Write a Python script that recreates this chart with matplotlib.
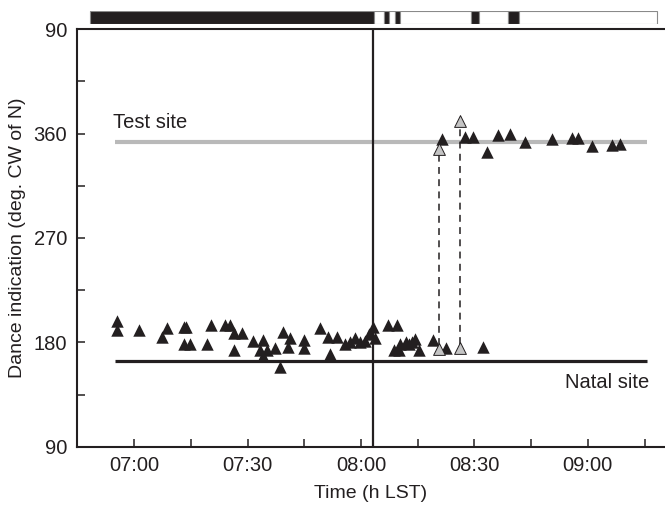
import matplotlib
matplotlib.use("Agg")
import matplotlib.pyplot as plt
from matplotlib.ticker import MultipleLocator, FixedLocator

plt.rcParams['font.family'] = ['Liberation Sans', 'DejaVu Sans']

# time in minutes after 07:00, dance direction in degrees (values > 360 plotted above 360)
black_t = [-4.6, -4.6, 1.4, 7.3, 8.6, 13.3, 13.8, 13.3, 14.8, 19.2, 20.4,
           24.0, 25.4, 26.4, 28.5, 26.4, 31.5, 34.2, 33.3, 35.1, 37.3, 34.2,
           38.6, 39.5, 40.7, 41.3, 45.0, 45.0, 49.2, 51.4, 51.8, 53.6,
           55.8, 57.1, 58.5, 59.8, 61.1, 62.0, 63.3, 63.8,
           67.2, 69.4, 68.6, 70.4, 71.8, 72.7, 73.5, 74.4, 75.3, 70.0,
           79.1, 82.6, 92.3,
           81.3, 87.5, 89.5, 93.2, 96.3, 99.4, 103.4, 110.4, 115.7, 117.4,
           121.2, 126.3, 128.5]
black_deg = [198, 191, 191, 185, 192, 193, 193, 179, 179, 179, 195,
             195, 195, 188, 188, 173, 181, 182, 173, 173, 175, 168,
             159, 189, 176, 184, 182, 175, 192, 185, 170, 185,
             179, 180, 184, 180, 181, 187, 193, 184,
             195, 195, 173, 179, 180, 179, 180, 183, 173, 173,
             182, 175, 176,
             355, 357, 357, 344, 359, 360, 353, 355, 356, 356,
             349, 350, 351]

# grey triangles: same dance read before (low) and after (high) the switch
grey_t = [80.5, 86.2]
grey_low = [174, 175]
grey_high = [347, 371]

natal_site = 164
test_site = 353
site_line_t = [-5.0, 135.7]
switch_t = 63.3

# top bar segments, alternating dark / light
bar_edges = [-11.8, 63.4, 66.1, 67.5, 69.1, 70.3, 89.0, 91.3, 99.0, 101.9, 138.2]
bar_black = [True, False, True, False, True, False, True, False, True, False]

xlim = (-15.2, 140.4)
x_major = [0, 30, 60, 90, 120]
x_labels = ['07:00', '07:30', '08:00', '08:30', '09:00']
y_major = [90, 180, 270, 360, 450]
y_labels = ['90', '180', '270', '360', '90']

fig = plt.figure(figsize=(6.65, 5.08), dpi=100)
ax = fig.add_axes([0.1153, 0.1207, 0.8847, 0.8216])
bar_ax = fig.add_axes([0.1153, 0.9528, 0.8847, 0.0256])

ink = '#231f20'

ax.plot(site_line_t, [test_site, test_site], color='#b9b9b9', lw=3.0, zorder=1,
        solid_capstyle='butt')
ax.plot(site_line_t, [natal_site, natal_site], color=ink, lw=2.3, zorder=1,
        solid_capstyle='butt')
ax.axvline(switch_t, color=ink, lw=1.6, zorder=4)

for t, lo, hi in zip(grey_t, grey_low, grey_high):
    ax.plot([t, t], [lo + 4, hi - 4], color=ink, lw=1.1, ls=(0, (4.5, 3.5)), zorder=2)

ax.scatter(black_t, black_deg, marker='^', s=80, color=ink, linewidths=0, zorder=3)
ax.scatter(grey_t + grey_t, grey_low + grey_high, marker='^', s=72,
           facecolor='#c4c4c4', edgecolor=ink, linewidths=0.7, zorder=5)

ax.text(-5.5, 364.5, 'Test site', fontsize=14.5, color=ink, ha='left', va='baseline')
ax.text(136.3, 140.5, 'Natal site', fontsize=14.5, color=ink, ha='right', va='baseline')

ax.set_xlim(*xlim)
ax.set_ylim(90, 450)
ax.xaxis.set_major_locator(FixedLocator(x_major))
ax.set_xticklabels(x_labels)
ax.xaxis.set_minor_locator(FixedLocator([-15, 15, 45, 75, 105, 135]))
ax.yaxis.set_major_locator(FixedLocator(y_major))
ax.set_yticklabels(y_labels)
ax.yaxis.set_minor_locator(MultipleLocator(45))
ax.tick_params(which='both', direction='in', length=6, width=1.1, colors=ink,
               labelsize=14.5, pad=7)
ax.spines['right'].set_visible(False)
for s in ['left', 'bottom', 'top']:
    ax.spines[s].set_linewidth(1.5)
    ax.spines[s].set_color(ink)
ax.set_xlabel('Time (h LST)', fontsize=14, color=ink, labelpad=7)
ax.set_ylabel('Dance indication (deg. CW of N)', fontsize=14, color=ink, labelpad=5)

for i in range(len(bar_black)):
    a, b = bar_edges[i], bar_edges[i + 1]
    bar_ax.barh(0, b - a, left=a, height=1, color=ink if bar_black[i] else 'white',
                edgecolor='#8a8a8a', linewidth=0.8)
bar_ax.set_xlim(*xlim)
bar_ax.set_ylim(-0.5, 0.5)
bar_ax.axis('off')

fig.savefig('out.png', dpi=100)
